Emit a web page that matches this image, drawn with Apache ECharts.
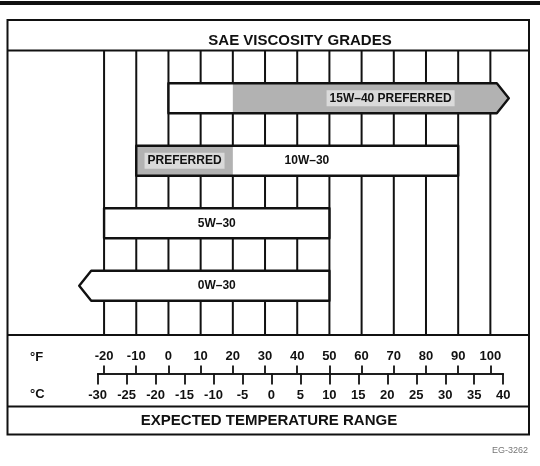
<!DOCTYPE html>
<html><head><meta charset="utf-8">
<script src="https://cdn.jsdelivr.net/npm/echarts@6/dist/echarts.min.js"></script>
<style>html,body{margin:0;padding:0;background:#fff}#c{width:540px;height:466px}</style>
</head><body><div id="c"></div>
<script>
// ---- data (temperatures in °F) ----
const grades = ['15W–40', '10W–30', '5W–30', '0W–30'];
const lowF = [0, -10, -20, -24];
const highF = [102, 90, 50, 50];
const arrowLeft = [false, false, false, true];
const arrowRight = [true, false, false, false];
const prefFromF = [20, -10, null, null];
const prefToF = [102, 20, null, null];
const mainLabel = ['15W–40 PREFERRED', '10W–30', '5W–30', '0W–30'];
const mainLabelF = [69, 43, 15, 15];
const prefLabel = [null, 'PREFERRED', null, null];
const prefLabelF = [null, 5, null, null];
const gridLinesF = [-20, -10, 0, 10, 20, 30, 40, 50, 60, 70, 80, 90, 100];
const fTicks = [-20, -10, 0, 10, 20, 30, 40, 50, 60, 70, 80, 90, 100];
const cTicks = [-30, -25, -20, -15, -10, -5, 0, 5, 10, 15, 20, 25, 30, 35, 40];

const FONT = '"Liberation Sans", Arial, sans-serif';
const INK = '#111';
const SHADE = '#b2b2b2';
const SHADE_LIGHT = '#dadada';

const chart = echarts.init(document.getElementById('c'), null, {renderer: 'canvas'});

function renderGridLine(params, api) {
  const x = api.coord([api.value(0), 0])[0];
  const cs = params.coordSys;
  return {
    type: 'line',
    shape: {x1: x, y1: cs.y, x2: x, y2: cs.y + cs.height},
    style: {stroke: INK, lineWidth: 2}
  };
}

function renderBar(params, api) {
  const i = params.dataIndex;
  const lo = api.value(0), hi = api.value(1), cat = api.value(2);
  const yc = api.coord([lo, cat])[1];
  const h = 30, A = 12;
  const top = yc - h / 2, bot = yc + h / 2;
  const xl = api.coord([lo, cat])[0], xr = api.coord([hi, cat])[0];
  const shape = [[xl, top], [xr, top]];
  if (arrowRight[i]) shape.push([xr + A, yc]);
  shape.push([xr, bot], [xl, bot]);
  if (arrowLeft[i]) shape.push([xl - A, yc]);
  const children = [{
    type: 'polygon', shape: {points: shape},
    style: {fill: '#fff', stroke: null}
  }];
  if (prefFromF[i] != null) {
    const xs = api.coord([prefFromF[i], cat])[0], xe = api.coord([prefToF[i], cat])[0];
    const p = [[xs, top], [xe, top]];
    if (prefToF[i] >= hi && arrowRight[i]) p.push([xe + A, yc]);
    p.push([xe, bot], [xs, bot]);
    if (prefFromF[i] <= lo && arrowLeft[i]) p.push([xs - A, yc]);
    children.push({type: 'polygon', shape: {points: p}, style: {fill: SHADE, stroke: null}});
  }
  children.push({
    type: 'polygon', shape: {points: shape},
    style: {fill: null, stroke: INK, lineWidth: 2.4, lineJoin: 'round'}
  });
  const inShade = (v) => prefFromF[i] != null && v >= prefFromF[i] && v <= prefToF[i];
  const addLabel = (txt, v) => {
    const shaded = inShade(v);
    children.push({
      type: 'text',
      x: api.coord([v, cat])[0], y: yc,
      style: {
        text: txt, fill: INK, fontSize: 12, fontWeight: 'bold', fontFamily: FONT,
        align: 'center', verticalAlign: 'middle',
        backgroundColor: shaded ? SHADE_LIGHT : null, padding: shaded ? [2, 3] : 0
      }
    });
  };
  addLabel(mainLabel[i], mainLabelF[i]);
  if (prefLabel[i]) addLabel(prefLabel[i], prefLabelF[i]);
  return {type: 'group', children};
}

const tickLabel = {fontSize: 13, fontWeight: 'bold', fontFamily: FONT, color: INK};

chart.setOption({
  animation: false,
  backgroundColor: '#fff',
  grid: [
    {left: 7.5, width: 521.5, top: 50.5, height: 284.5},
    {left: 7.5, width: 521.5, top: 67, height: 250},
    {left: 97.6, width: 405.6, top: 372.5, height: 1}
  ],
  xAxis: [
    {gridIndex: 0, type: 'value', min: -50, max: 112, show: false},
    {gridIndex: 1, type: 'value', min: -50, max: 112, show: false},
    {gridIndex: 2, type: 'value', min: -22, max: 104, position: 'top',
      axisLine: {show: true, lineStyle: {color: INK, width: 1.5}},
      axisTick: {show: true, customValues: fTicks, length: 8, lineStyle: {color: INK, width: 1.8}},
      axisLabel: Object.assign({customValues: fTicks, margin: 10}, tickLabel),
      splitLine: {show: false}},
    {gridIndex: 2, type: 'value', min: -30, max: 40, position: 'bottom',
      axisLine: {show: true, lineStyle: {color: INK, width: 1.5}},
      axisTick: {show: true, customValues: cTicks, length: 11, lineStyle: {color: INK, width: 1.8}},
      axisLabel: Object.assign({customValues: cTicks, margin: 15}, tickLabel),
      splitLine: {show: false}}
  ],
  yAxis: [
    {gridIndex: 0, type: 'value', min: 0, max: 1, show: false},
    {gridIndex: 1, type: 'category', data: grades, inverse: true, show: false},
    {gridIndex: 2, type: 'value', show: false}
  ],
  series: [
    {type: 'custom', xAxisIndex: 0, yAxisIndex: 0, z: 1, silent: true,
      data: gridLinesF.map(v => [v]), encode: {x: 0},
      renderItem: renderGridLine},
    {type: 'custom', xAxisIndex: 1, yAxisIndex: 1, z: 2, silent: true,
      data: grades.map((g, i) => [lowF[i], highF[i], i]), encode: {x: [0, 1], y: 2},
      renderItem: renderBar, clip: false}
  ],
  graphic: [
    {type: 'rect', shape: {x: 0, y: 1, width: 540, height: 4}, style: {fill: INK}},
    {type: 'rect', shape: {x: 7.5, y: 20, width: 521.5, height: 414.5}, style: {fill: null, stroke: INK, lineWidth: 2}},
    {type: 'line', shape: {x1: 7.5, y1: 50.5, x2: 529, y2: 50.5}, style: {stroke: INK, lineWidth: 2}},
    {type: 'line', shape: {x1: 7.5, y1: 335, x2: 529, y2: 335}, style: {stroke: INK, lineWidth: 2}},
    {type: 'line', shape: {x1: 7.5, y1: 406.5, x2: 529, y2: 406.5}, style: {stroke: INK, lineWidth: 2}},
    {type: 'text', x: 300, y: 41, style: {text: 'SAE VISCOSITY GRADES', fill: INK, fontSize: 15, fontWeight: 'bold', fontFamily: FONT, align: 'center', verticalAlign: 'middle'}},
    {type: 'text', x: 269, y: 420.5, style: {text: 'EXPECTED TEMPERATURE RANGE', fill: INK, fontSize: 15, fontWeight: 'bold', fontFamily: FONT, align: 'center', verticalAlign: 'middle'}},
    {type: 'text', x: 30, y: 357, style: {text: '°F', fill: INK, fontSize: 13, fontWeight: 'bold', fontFamily: FONT, align: 'left', verticalAlign: 'middle'}},
    {type: 'text', x: 30, y: 394, style: {text: '°C', fill: INK, fontSize: 13, fontWeight: 'bold', fontFamily: FONT, align: 'left', verticalAlign: 'middle'}},
    {type: 'text', x: 528, y: 451, style: {text: 'EG-3262', fill: '#777', fontSize: 9, fontFamily: FONT, align: 'right', verticalAlign: 'middle'}}
  ]
});
</script>
</body></html>
